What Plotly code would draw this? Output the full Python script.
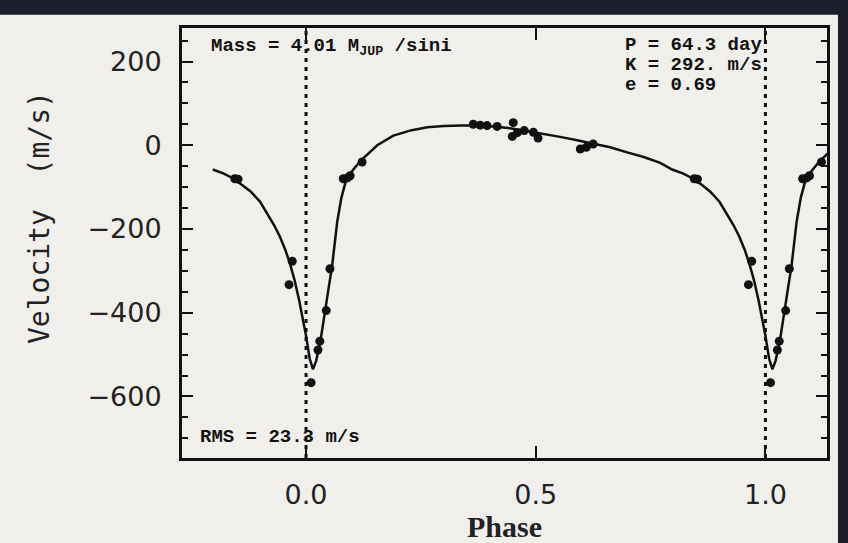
import plotly.graph_objects as go

# ---- data ----
# model curve (phase, velocity m/s) over one period
curve_phase = [0.0, 0.008, 0.015, 0.022, 0.031, 0.046, 0.057, 0.068, 0.077, 0.086,
               0.100, 0.118, 0.135, 0.155, 0.19, 0.23, 0.264, 0.30, 0.336, 0.37,
               0.407, 0.44, 0.48, 0.52, 0.553, 0.59, 0.625, 0.662, 0.699, 0.735,
               0.771, 0.797, 0.82, 0.843, 0.862, 0.880, 0.90, 0.917, 0.93, 0.943,
               0.955, 0.965, 0.975, 0.985, 0.993]
curve_vel = [-455, -510, -535, -515, -470, -364, -286, -182, -125, -88,
             -62, -38, -20, 0, 23, 36, 43, 46, 47, 47,
             45, 41, 34, 27, 20, 12, 4, -5, -17, -28,
             -42, -58, -67, -80, -95, -111, -135, -165, -190, -218,
             -250, -283, -322, -370, -415]

# observations (phase, velocity m/s)
obs_phase = [0.011, 0.026, 0.030, 0.044, 0.052, 0.081, 0.090, 0.096, 0.122,
             0.364, 0.379, 0.394, 0.416, 0.449, 0.451, 0.460, 0.475, 0.495, 0.505,
             0.597, 0.610, 0.625, 0.845, 0.852, 0.963, 0.970]
obs_vel = [-567, -489, -468, -395, -295, -80, -78, -73, -40,
           50, 48, 47, 45, 21, 54, 30, 35, 31, 17,
           -9, -5, 3, -80, -81, -333, -277]

x_range = [-0.27, 1.134]
y_range = [-747, 280]
curve_start = 0.797      # model drawn from phase -0.203
curve_wrap_end = 0.16

y_ticks = [-600, -400, -200, 0, 200]
x_ticks = [0.0, 0.5, 1.0]
x_ticktext = ["0.0", "0.5", "1.0"]

# ---- build phase-wrapped series ----
cx = [p - 1 for p in curve_phase if p >= curve_start] + curve_phase + \
     [p + 1 for p in curve_phase if p <= curve_wrap_end]
cy = [v for p, v in zip(curve_phase, curve_vel) if p >= curve_start] + curve_vel + \
     [v for p, v in zip(curve_phase, curve_vel) if p <= curve_wrap_end]

ox, oy = list(obs_phase), list(obs_vel)
for p, v in zip(obs_phase, obs_vel):
    if p - 1 >= x_range[0]:
        ox.append(p - 1); oy.append(v)
    if p + 1 <= x_range[1]:
        ox.append(p + 1); oy.append(v)

BG = "#f1efec"
INK = "#111111"
DARK = "#1d1e2c"

fig = go.Figure()
fig.add_trace(go.Scatter(x=cx, y=cy, mode="lines",
                         line=dict(color=INK, width=2.5), hoverinfo="skip",
                         showlegend=False))
fig.add_trace(go.Scatter(x=ox, y=oy, mode="markers",
                         marker=dict(color=INK, size=9, symbol="circle"),
                         showlegend=False))

# dotted vertical lines at phase 0 and 1
for xv in [0.0, 1.0]:
    fig.add_shape(type="line", xref="x", yref="paper", x0=xv, x1=xv, y0=0, y1=1,
                  line=dict(color=INK, width=3, dash="4px,5px"), layer="below")

# dark frame bands of the screenshot
fig.add_shape(type="rect", xref="paper", yref="paper", x0=-0.4, x1=1.1,
              y0=1.031, y1=1.1, fillcolor=DARK, line=dict(width=0), layer="above")
fig.add_shape(type="rect", xref="paper", yref="paper", x0=1.017, x1=1.1,
              y0=-0.3, y1=1.1, fillcolor=DARK, line=dict(width=0), layer="above")

mono = dict(family="Liberation Mono", size=19, color=INK, weight="bold")
ann = [
    dict(text="Mass = 4.01 M<sub>JUP</sub> /sini", x=0.042, y=0.956),
    dict(text="P = 64.3 day", x=0.684, y=0.961),
    dict(text="K = 292. m/s", x=0.684, y=0.915),
    dict(text="e = 0.69", x=0.684, y=0.868),
    dict(text="RMS = 23.3 m/s", x=0.025, y=0.048),
]
for a in ann:
    fig.add_annotation(text=a["text"], x=a["x"], y=a["y"], xref="paper", yref="paper",
                       xanchor="left", yanchor="middle", showarrow=False, font=mono)

fig.add_annotation(text="Velocity  (m/s)", x=-0.222, y=0.56, xref="paper", yref="paper",
                   textangle=-90, showarrow=False, xanchor="center", yanchor="middle",
                   font=dict(family="DejaVu Sans Mono", size=28, color="#222222"))

fig.update_layout(
    width=848, height=543,
    margin=dict(l=182, r=21, t=28, b=81),
    paper_bgcolor=BG, plot_bgcolor=BG,
    showlegend=False,
    xaxis=dict(range=x_range, tickvals=x_ticks, ticktext=x_ticktext,
               ticks="inside", ticklen=12, tickwidth=2, tickcolor=INK,
               showline=True, linewidth=3, linecolor=INK, mirror="allticks",
               showgrid=False, zeroline=False, ticklabelstandoff=11,
               tickfont=dict(family="DejaVu Sans", size=27, color="#222222"),
               title=dict(text="Phase", standoff=0,
                          font=dict(family="Liberation Serif", size=30,
                                    color="#222222", weight="bold"))),
    yaxis=dict(range=y_range, tickvals=y_ticks,
               ticks="inside", ticklen=11, tickwidth=2, tickcolor=INK,
               showline=True, linewidth=3, linecolor=INK, mirror="allticks",
               showgrid=False, zeroline=False, ticklabelstandoff=12,
               minor=dict(dtick=50, tick0=0, ticks="inside", ticklen=6,
                          tickwidth=2, tickcolor=INK, showgrid=False),
               tickfont=dict(family="DejaVu Sans", size=27, color="#222222")),
)

fig.write_html("out.html",
               config={"displayModeBar": False},
               post_script="document.body.style.margin='0';document.body.style.overflow='hidden';")
